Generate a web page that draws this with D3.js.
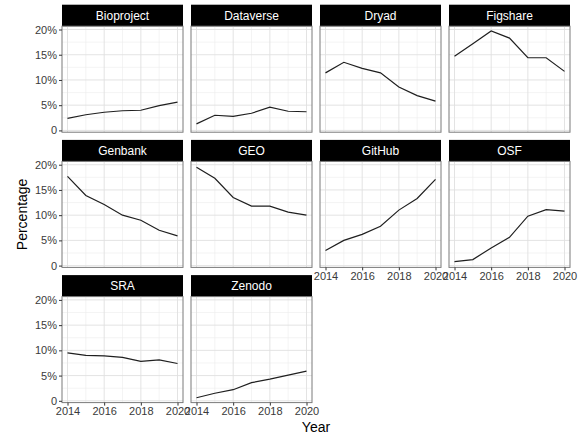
<!DOCTYPE html>
<html>
<head>
<meta charset="utf-8">
<script src="https://cdn.jsdelivr.net/npm/d3@7"></script>
<style>
  body { margin: 0; background: #fff; }
  svg { font-family: "Liberation Sans", Arial, sans-serif; }
  .grid-major { stroke: #e0e0e0; stroke-width: 0.9; }
  .grid-minor { stroke: #ededed; stroke-width: 0.6; }
  .tick-lab { fill: #3a3a3a; font-size: 11px; }
  .strip-lab { fill: #fff; font-size: 12px; }
</style>
</head>
<body>
<div id="chart"></div>
<script>
// Share of datasets per repository, by year
const years = [2014, 2015, 2016, 2017, 2018, 2019, 2020];
const repos = ['Bioproject', 'Dataverse', 'Dryad', 'Figshare', 'Genbank', 'GEO', 'GitHub', 'OSF', 'SRA', 'Zenodo'];

const bioproject = [2.4, 3.1, 3.6, 3.9, 4.0, 4.9, 5.6];
const dataverse  = [1.3, 3.0, 2.8, 3.4, 4.6, 3.8, 3.7];
const dryad      = [11.4, 13.5, 12.3, 11.4, 8.6, 6.9, 5.8];
const figshare   = [14.7, 17.2, 19.7, 18.3, 14.4, 14.4, 11.7];
const genbank    = [17.7, 13.9, 12.1, 10.0, 9.0, 7.0, 5.9];
const geo        = [19.5, 17.3, 13.5, 11.8, 11.8, 10.6, 10.0];
const github     = [3.0, 5.0, 6.2, 7.8, 11.0, 13.3, 17.1];
const osf        = [0.8, 1.2, 3.5, 5.6, 9.8, 11.1, 10.8];
const sra        = [9.5, 9.0, 8.9, 8.6, 7.8, 8.1, 7.4];
const zenodo     = [0.6, 1.5, 2.2, 3.6, 4.3, 5.1, 5.9];

const seriesValues = [bioproject, dataverse, dryad, figshare, genbank, geo, github, osf, sra, zenodo];
const yTicks = [0, 5, 10, 15, 20];
const xTicks = [2014, 2016, 2018, 2020];

const W = 584, H = 435;
const ncol = 4;
const padLeft = 62, padTop = 4.7;
const panelW = 121, gapX = 8;
const stripH = 21.5, panelH = 106, rowPitch = 135.2;

const svg = d3.select('#chart').append('svg')
    .attr('width', W).attr('height', H);

// shared scales, ggplot-style 5% expansion
const allVals = seriesValues.flat();
const [vmin, vmax] = d3.extent(allVals);
const yr = vmax - vmin;
const y = d3.scaleLinear()
    .domain([vmin - 0.05 * yr, vmax + 0.05 * yr])
    .range([panelH, 0]);
const xr = years[years.length - 1] - years[0];
const x = d3.scaleLinear()
    .domain([years[0] - 0.05 * xr, years[years.length - 1] + 0.05 * xr])
    .range([0, panelW]);

const line = d3.line()
    .x((d, i) => x(years[i]))
    .y(d => y(d));

const nrow = Math.ceil(repos.length / ncol);

repos.forEach((name, i) => {
    const col = i % ncol, row = Math.floor(i / ncol);
    const px = padLeft + col * (panelW + gapX);
    const py = padTop + row * rowPitch;
    const g = svg.append('g').attr('transform', `translate(${px},${py})`);

    // strip
    g.append('rect')
        .attr('width', panelW).attr('height', stripH)
        .attr('fill', '#000');
    g.append('text')
        .attr('class', 'strip-lab')
        .attr('x', panelW / 2).attr('y', stripH / 2)
        .attr('dy', '0.35em')
        .attr('text-anchor', 'middle')
        .text(name);

    const p = g.append('g').attr('transform', `translate(0,${stripH})`);

    // minor grid
    d3.range(years[0] + 1, years[years.length - 1], 2).forEach(v => {
        p.append('line').attr('class', 'grid-minor')
            .attr('x1', x(v)).attr('x2', x(v)).attr('y1', 0).attr('y2', panelH);
    });
    d3.range(2.5, 21, 5).forEach(v => {
        p.append('line').attr('class', 'grid-minor')
            .attr('y1', y(v)).attr('y2', y(v)).attr('x1', 0).attr('x2', panelW);
    });
    // major grid
    xTicks.forEach(v => {
        p.append('line').attr('class', 'grid-major')
            .attr('x1', x(v)).attr('x2', x(v)).attr('y1', 0).attr('y2', panelH);
    });
    yTicks.forEach(v => {
        p.append('line').attr('class', 'grid-major')
            .attr('y1', y(v)).attr('y2', y(v)).attr('x1', 0).attr('x2', panelW);
    });

    p.append('path')
        .datum(seriesValues[i])
        .attr('d', line)
        .attr('fill', 'none')
        .attr('stroke', '#1f1f1f')
        .attr('stroke-width', 1.2);

    p.append('rect')
        .attr('width', panelW).attr('height', panelH)
        .attr('fill', 'none')
        .attr('stroke', '#7a7a7a')
        .attr('stroke-width', 1);

    // y axis on first column
    if (col === 0) {
        const ya = p.append('g')
            .call(d3.axisLeft(y).tickValues(yTicks).tickSize(3).tickPadding(2)
                .tickFormat(d => d === 0 ? '0' : d + '%'));
        ya.select('.domain').remove();
        ya.selectAll('line').attr('stroke', '#333');
        ya.selectAll('text').attr('class', 'tick-lab').attr('font-size', null).attr('font-family', null).attr('fill', null);
    }
    // x axis where nothing is below
    const below = i + ncol;
    if (below >= repos.length) {
        const xa = p.append('g')
            .attr('transform', `translate(0,${panelH})`)
            .call(d3.axisBottom(x).tickValues(xTicks).tickSize(3).tickPadding(2)
                .tickFormat(d3.format('d')));
        xa.select('.domain').remove();
        xa.selectAll('line').attr('stroke', '#333');
        xa.selectAll('text').attr('class', 'tick-lab').attr('font-size', null).attr('font-family', null).attr('fill', null);
    }
});

const plotRight = padLeft + ncol * panelW + (ncol - 1) * gapX;
const plotTop = padTop + stripH;
const plotBottom = padTop + (nrow - 1) * rowPitch + stripH + panelH;

svg.append('text')
    .attr('x', (padLeft + plotRight) / 2)
    .attr('y', 432)
    .attr('text-anchor', 'middle')
    .attr('font-size', 14)
    .attr('fill', '#000')
    .text('Year');

svg.append('text')
    .attr('transform', `translate(22,${(plotTop + plotBottom) / 2}) rotate(-90)`)
    .attr('dy', '0.35em')
    .attr('text-anchor', 'middle')
    .attr('font-size', 14)
    .attr('fill', '#000')
    .text('Percentage');
</script>
</body>
</html>
